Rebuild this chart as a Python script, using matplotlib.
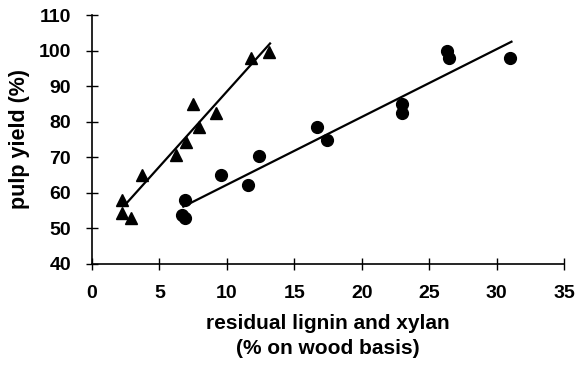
"""plot.py - pulp yield vs residual lignin and xylan"""

import matplotlib.pyplot as plt

plt.rcParams['font.family'] = ['Liberation Sans', 'DejaVu Sans']
plt.rcParams['font.weight'] = 'bold'

# Triangle series
tri_x = [2.25, 2.25, 2.9, 3.7, 6.2, 7.0, 7.5, 7.9, 9.2, 11.8, 13.1]
tri_y = [58.0, 54.2, 52.8, 65.0, 70.6, 74.4, 84.9, 78.4, 82.4, 97.8, 99.7]
tri_fit_x = [2.45, 13.2]
tri_fit_y = [56.6, 102.0]

# Circle series
circ_x = [6.9, 6.65, 6.9, 9.6, 11.6, 12.4, 16.7, 17.4, 23.0, 23.0, 26.3, 26.45, 31.0]
circ_y = [58.0, 53.8, 52.8, 65.0, 62.2, 70.4, 78.6, 74.9, 84.9, 82.5, 100.0, 97.8, 98.0]
circ_fit_x = [6.77, 31.1]
circ_fit_y = [56.1, 102.5]

xticks = [0, 5, 10, 15, 20, 25, 30, 35]
yticks = [40, 50, 60, 70, 80, 90, 100, 110]

fig = plt.figure(figsize=(5.75, 3.67), dpi=100)
ax = fig.add_axes([0.16, 0.281, 0.821, 0.678])

ax.plot(tri_fit_x, tri_fit_y, color='black', lw=1.6)
ax.plot(circ_fit_x, circ_fit_y, color='black', lw=1.6)
ax.plot(tri_x, tri_y, '^', color='black', ms=9, ls='none')
ax.plot(circ_x, circ_y, 'o', color='black', ms=8.5, ls='none')

ax.set_xlim(0, 35)
ax.set_ylim(40, 110)
ax.set_xticks(xticks)
ax.set_yticks(yticks)
ax.tick_params(direction='inout', length=8, width=1, labelsize=14)
ax.tick_params(axis='x', pad=11)
ax.tick_params(axis='y', pad=11)
for lab in ax.get_xticklabels() + ax.get_yticklabels():
    lab.set_fontweight('bold')

ax.spines['top'].set_visible(False)
ax.spines['right'].set_visible(False)
ax.spines['left'].set_linewidth(1.2)
ax.spines['bottom'].set_linewidth(1.2)

ax.set_xlabel('residual lignin and xylan\n(% on wood basis)', fontsize=15,
              fontweight='bold', linespacing=1.4, labelpad=9)
ax.set_ylabel('pulp yield (%)', fontsize=15.5, fontweight='bold', labelpad=6)

fig.savefig('out.png', dpi=100)
